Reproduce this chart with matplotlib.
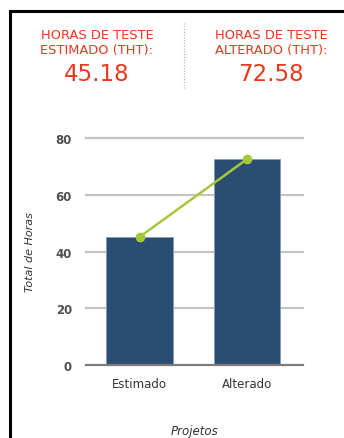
import matplotlib.pyplot as plt
from matplotlib.lines import Line2D

# data
categories = ["Estimado", "Alterado"]
horas = [45.18, 72.58]
header_labels = ["HORAS DE TESTE\nESTIMADO (THT):", "HORAS DE TESTE\nALTERADO (THT):"]
y_ticks = [0, 20, 40, 60, 80]

W, H = 344, 439
fig = plt.figure(figsize=(W / 100, H / 100), dpi=100)
plt.rcParams['font.family'] = ['DejaVu Sans']

red = "#e8381e"
bar_color = "#294d73"
green = "#a5c83a"

# frame lines (left and top)
fig.add_artist(Line2D([9.5 / W, 9.5 / W], [0, 1 - 12 / H], color="black", lw=2.2, transform=fig.transFigure))
fig.add_artist(Line2D([9.5 / W, 1], [1 - 12 / H, 1 - 12 / H], color="black", lw=2.2, transform=fig.transFigure))

# header
for cx, lab, val in zip([97, 271], header_labels, horas):
    fig.text(cx / W, 1 - 43 / H, lab, ha="center", va="center", color=red,
             fontsize=9.4, linespacing=1.25)
    fig.text(cx / W, 1 - 75 / H, f"{val:.2f}", ha="center", va="center",
             color=red, fontsize=16.5)
fig.add_artist(Line2D([184 / W, 184 / W], [1 - 24 / H, 1 - 89 / H], color="#c8aaa0",
                      lw=0.8, ls=(0, (1, 1.5)), transform=fig.transFigure))

# chart
ax = fig.add_axes([86 / W, 1 - 366 / H, 217 / W, 227 / H])
x = range(len(categories))
ax.bar(x, horas, width=0.62, color=bar_color, edgecolor="#8a9bb0", linewidth=0.6, zorder=3)
ax.plot(x, horas, color=green, lw=1.8, marker="o", markersize=6, zorder=4, clip_on=False)

for t in y_ticks[1:]:
    ax.axhline(t, color="#c4c4c4", lw=1.6, zorder=1, clip_on=False)
ax.axhline(0, color="#7c7c7c", lw=1.6, zorder=5, clip_on=False)

ax.set_xlim(-0.5, 1.52)
ax.set_ylim(0, 80)
ax.set_yticks(y_ticks)
ax.set_xticks(list(x))
ax.set_xticklabels(categories)
for s in ax.spines.values():
    s.set_visible(False)
ax.tick_params(axis="y", length=0, pad=10, labelsize=8.5, labelcolor="#505050")
ax.tick_params(axis="x", length=0, pad=9, labelsize=8.5, labelcolor="#333333")
for lbl in ax.get_yticklabels():
    lbl.set_fontweight("bold")

ax.set_ylabel("Total de Horas", fontsize=8, style="italic", color="#333333")
ax.yaxis.set_label_coords(-0.235, 0.5)
ax.set_xlabel("Projetos", fontsize=8.5, style="italic", color="#333333")
ax.xaxis.set_label_coords(0.5, -0.26)

plt.savefig("out.png", dpi=100)
plt.close()
